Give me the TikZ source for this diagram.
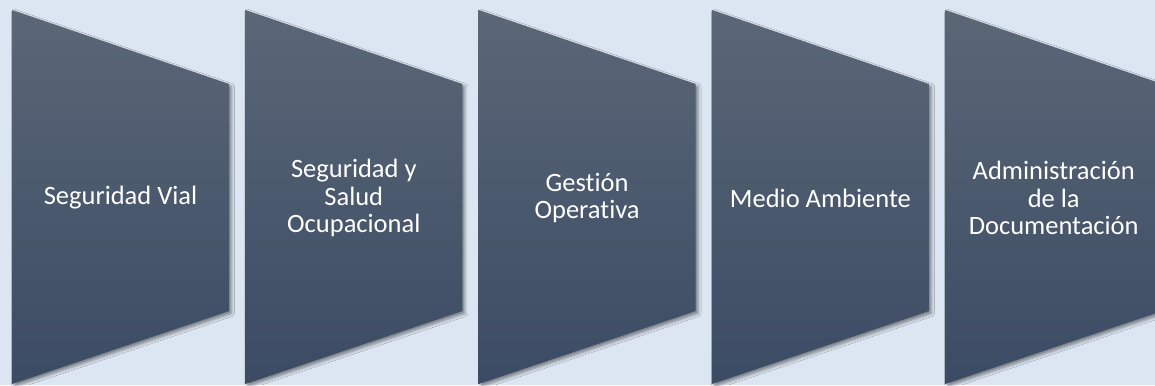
\documentclass[tikz,border=0pt]{standalone}
\usepackage{fontspec}
\setmainfont{Carlito}[Ligatures=NoCommon]
\usetikzlibrary{positioning,shadows.blur}
\definecolor{bgblue}{HTML}{DCE6F2}
\definecolor{stagetop}{HTML}{5B6777}
\definecolor{stagebot}{HTML}{3B4B64}
\begin{document}
\begin{tikzpicture}[x=1pt, y=-1pt,
                stage/.style={top color=stagetop, bottom color=stagebot,
                  blur shadow={shadow xshift=2.5pt, shadow yshift=-2.5pt,
                  shadow blur radius=3pt, shadow opacity=45}},
                stagetext/.style={text=white, align=center,
                  font=\fontsize{26.5}{27.4}\selectfont}]
                \fill[bgblue] (0,0) rectangle (1155,385);
                \useasboundingbox (0,0) rectangle (1155,385);
                \clip (0,0) rectangle (1155,385);
                \foreach \name/\txt [count=\i from 0] in {vial/{Seguridad Vial},
                    salud/{Seguridad y\\Salud\\Ocupacional},
                    gestion/{Gestión\\Operativa},
                    ambiente/{Medio Ambiente},
                    docs/{Administración\\de la\\Documentación}}
                {
                \path[stage] (12+233.3*\i,10) -- ++(217,74) -- ++(0,227)
                    -- (12+233.3*\i,384) -- cycle;
                \node[stagetext] (\name) at (120.5+233.3*\i,198) {\txt};
                }
\end{tikzpicture}
\end{document}
